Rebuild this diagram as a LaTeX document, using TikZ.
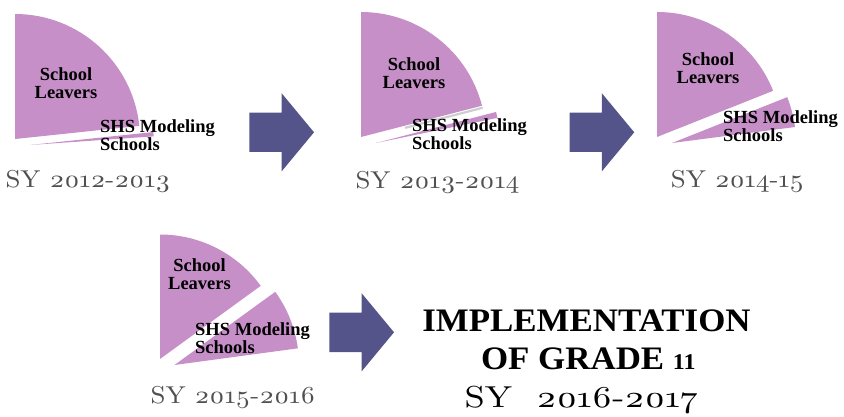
\documentclass[tikz,border=0pt]{standalone}
\usepackage{fontspec}
\usetikzlibrary{calc}
\newfontfamily\lib{Liberation Serif}
\newfontfamily\osf{lmroman10-regular.otf}[Numbers=OldStyle]
\definecolor{piecol}{RGB}{198,143,200}
\definecolor{arrcol}{RGB}{84,84,138}
\definecolor{sygray}{RGB}{80,80,80}
\tikzset{
  slice/.style={fill=piecol},
  edgeshadow/.style={draw=black!35, line width=2.2pt, opacity=0.55, line cap=round},
  lbl/.style={font=\lib\bfseries\fontsize{18.5}{18}\selectfont, inner sep=0pt, text=black},
  sylbl/.style={font=\osf\fontsize{24.4}{26}\selectfont, text=sygray, inner sep=0pt, anchor=base},
  titlefont/.style={font=\lib\bfseries\fontsize{32.8}{34}\selectfont, inner sep=0pt, anchor=base},
  barrow/.pic={\fill[arrcol] (0,-19.7) -- (32.4,-19.7) -- (32.4,-39) -- (64.7,0) -- (32.4,39) -- (32.4,19.7) -- (0,19.7) -- cycle;}
}
\begin{document}
\begin{tikzpicture}[x=1pt,y=-1pt]
\useasboundingbox (0,0) rectangle (844,417);
% ---------- pie 1 : SY 2012-2013
\coordinate (c1) at (15,139);
\coordinate (e1) at (30,145);
\fill[slice] (c1) -- ++(-6:125) arc[start angle=-6, end angle=-90, radius=125] -- cycle;
\fill[slice] (e1) -- ++(-4:124) arc[start angle=-4, end angle=-6, radius=124] -- cycle;
\node[lbl, anchor=north, align=center] (sl1) at (66,67) {School\\Leavers};
\node[lbl, anchor=north west, align=left] (shs1) at (100,119) {SHS Modeling\\Schools};
\node[sylbl] (sy1) at (88,188) {\scalebox{1.1}[1]{SY 2012-2013}};
% ---------- pie 2 : SY 2013-2014
\coordinate (c2) at (361,137);
\coordinate (e2) at (376,143);
\coordinate (s2a) at ($(c2)+(-14.5:45)+(1,2)$);
\coordinate (s2b) at ($(c2)+(-14.5:124)+(1,2)$);
\draw[edgeshadow] (s2a) -- (s2b);
\fill[slice] (c2) -- ++(-14.5:125) arc[start angle=-14.5, end angle=-90, radius=125] -- cycle;
\fill[slice] (e2) -- ++(-11.7:124) arc[start angle=-11.7, end angle=-14.5, radius=124] -- cycle;
\node[lbl, anchor=north, align=center] (sl2) at (414,57) {School\\Leavers};
\node[lbl, anchor=north west, align=left] (shs2) at (412,118) {SHS Modeling\\Schools};
\node[sylbl] (sy2) at (437.5,189) {\scalebox{1.1}[1]{SY 2013-2014}};
% ---------- pie 3 : SY 2014-15
\coordinate (c3) at (657,137);
\coordinate (e3) at (672,143);
\fill[slice] (c3) -- ++(-21.7:125) arc[start angle=-21.7, end angle=-90, radius=125] -- cycle;
\fill[slice] (e3) -- ++(-7.4:124) arc[start angle=-7.4, end angle=-21.7, radius=124] -- cycle;
\node[lbl, anchor=north, align=center] (sl3) at (708,52) {School\\Leavers};
\node[lbl, anchor=north west, align=left] (shs3) at (723,110) {SHS Modeling\\Schools};
\node[sylbl] (sy3) at (737.5,188) {\scalebox{1.1}[1]{SY 2014-15}};
% ---------- pie 4 : SY 2015-2016
\coordinate (c4) at (160,359);
\coordinate (e4) at (174.5,365);
\fill[slice] (c4) -- ++(-36:124.5) arc[start angle=-36, end angle=-90, radius=124.5] -- cycle;
\fill[slice] (e4) -- ++(-7.7:124.5) arc[start angle=-7.7, end angle=-36, radius=124.5] -- cycle;
\node[lbl, anchor=north, align=center] (sl4) at (199.5,258) {School\\Leavers};
\node[lbl, anchor=north west, align=left] (shs4) at (195,322) {SHS Modeling\\Schools};
\node[sylbl] (sy4) at (233,403) {\scalebox{1.1}[1]{SY 2015-2016}};
% ---------- arrows
\pic (a1) at (249.3,132.3) {barrow};
\pic (a2) at (569.5,132.3) {barrow};
\pic (a3) at (329.3,332.3) {barrow};
% ---------- final text
\node[titlefont] (ti1) at (586.5,331.7) {\scalebox{1.064}[1]{IMPLEMENTATION}};
\node[titlefont] (ti2) at (588.3,369) {\scalebox{1.064}[1]{OF GRADE {\fontsize{22.5}{22.5}\selectfont 11}}};
\node[font=\osf\fontsize{30.3}{32}\selectfont, inner sep=0pt, anchor=base] (ti3) at (581.5,407.3) {\scalebox{1.2}[1]{SY\ \ 2016-2017}};
\end{tikzpicture}
\end{document}
